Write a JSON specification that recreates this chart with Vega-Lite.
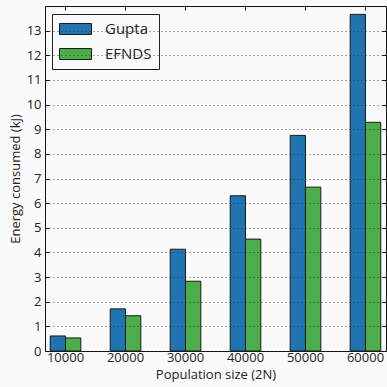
{
  "$schema": "https://vega.github.io/schema/vega-lite/v6.json",
  "width": 341,
  "height": 345,
  "autosize": {"type": "none"},
  "padding": {"left": 45, "top": 6, "right": 1, "bottom": 36},
  "background": "#fafafa",
  "config": {
    "font": "Open Sans",
    "view": {"stroke": "#111", "strokeWidth": 1, "fill": "#fafafa"},
    "axis": {
      "labelFont": "Open Sans",
      "titleFont": "Open Sans",
      "labelFontSize": 13,
      "titleFontSize": 13,
      "titleFontWeight": "normal",
      "labelColor": "#222",
      "titleColor": "#222",
      "domain": false,
      "tickColor": "#111",
      "tickSize": -4
    }
  },
  "data": {
    "values": [
      {"population": "10000", "method": "Gupta", "energy": 0.61},
      {"population": "10000", "method": "EFNDS", "energy": 0.53},
      {"population": "20000", "method": "Gupta", "energy": 1.71},
      {"population": "20000", "method": "EFNDS", "energy": 1.43},
      {"population": "30000", "method": "Gupta", "energy": 4.13},
      {"population": "30000", "method": "EFNDS", "energy": 2.83},
      {"population": "40000", "method": "Gupta", "energy": 6.30},
      {"population": "40000", "method": "EFNDS", "energy": 4.54},
      {"population": "50000", "method": "Gupta", "energy": 8.75},
      {"population": "50000", "method": "EFNDS", "energy": 6.65},
      {"population": "60000", "method": "Gupta", "energy": 13.66},
      {"population": "60000", "method": "EFNDS", "energy": 9.28}
    ]
  },
  "layer": [
    {
      "mark": {"type": "bar", "stroke": "#1a1a1a", "strokeWidth": 1},
      "encoding": {
        "x": {
          "field": "population",
          "type": "ordinal",
          "scale": {"paddingInner": 0.49, "paddingOuter": 0.087},
          "axis": {
            "title": "Population size (2N)",
            "labelAngle": 0,
            "labelPadding": 4,
            "titlePadding": 4,
            "orient": "bottom"
          }
        },
        "xOffset": {
          "field": "method",
          "type": "nominal",
          "sort": ["Gupta", "EFNDS"],
          "scale": {"paddingInner": 0, "paddingOuter": 0}
        },
        "y": {
          "field": "energy",
          "type": "quantitative",
          "scale": {"domain": [0, 14], "nice": false},
          "axis": {
            "title": "Energy consumed (kJ)",
            "values": [0, 1, 2, 3, 4, 5, 6, 7, 8, 9, 10, 11, 12, 13],
            "grid": true,
            "gridDash": [1, 3],
            "gridColor": "#333",
            "gridOpacity": 0.85,
            "zindex": 1,
            "labelPadding": 8,
            "titlePadding": 4,
            "orient": "left"
          }
        },
        "color": {
          "field": "method",
          "type": "nominal",
          "sort": ["Gupta", "EFNDS"],
          "scale": {"range": ["#1f74b1", "#4bae4a"]},
          "legend": {
            "title": null,
            "orient": "none",
            "legendX": 7,
            "legendY": 8,
            "symbolType": "M-1,-0.733H3.267V0.733H-1Z",
            "symbolSize": 225,
            "symbolStrokeColor": "#1a1a1a",
            "symbolStrokeWidth": 1,
            "symbolOpacity": 1,
            "labelFont": "Open Sans",
            "labelFontSize": 15,
            "labelColor": "#222",
            "labelOffset": 30,
            "rowPadding": 9,
            "padding": 7,
            "strokeColor": "#222",
            "fillColor": "#fafafa"
          }
        }
      }
    },
    {
      "mark": {"type": "bar", "opacity": 0},
      "encoding": {
        "x": {
          "field": "population",
          "type": "ordinal",
          "axis": {"orient": "top", "title": null, "labels": false, "zindex": 1}
        },
        "y": {
          "field": "energy",
          "type": "quantitative",
          "axis": {
            "orient": "right",
            "title": null,
            "labels": false,
            "values": [0, 1, 2, 3, 4, 5, 6, 7, 8, 9, 10, 11, 12, 13],
            "zindex": 1
          }
        }
      }
    }
  ],
  "resolve": {"axis": {"x": "independent", "y": "independent"}}
}
